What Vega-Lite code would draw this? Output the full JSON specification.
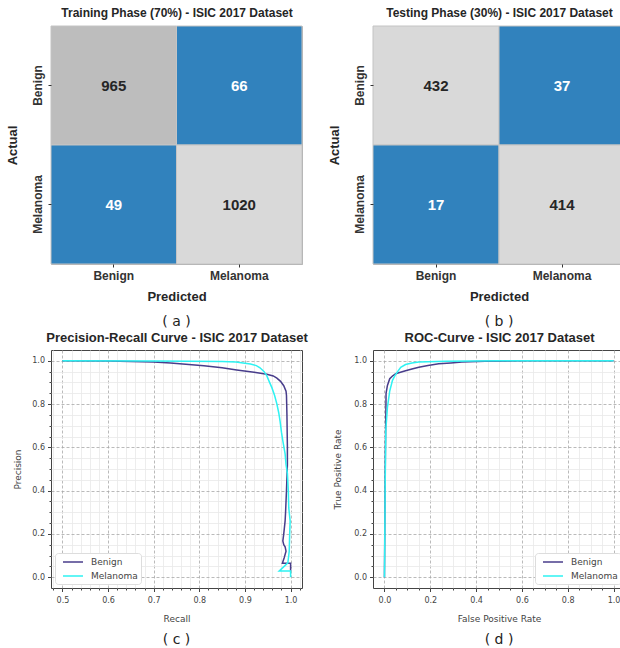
{
  "$schema": "https://vega.github.io/schema/vega-lite/v6.json",
  "background": "white",
  "padding": {"left": 5, "top": 5, "right": 0, "bottom": 0},
  "config": {"font": "Liberation Sans"},
  "datasets": {
    "cmTrain": [
      {"actual": "Benign", "predicted": "Benign", "n": 965},
      {"actual": "Benign", "predicted": "Melanoma", "n": 66},
      {"actual": "Melanoma", "predicted": "Benign", "n": 49},
      {"actual": "Melanoma", "predicted": "Melanoma", "n": 1020}
    ],
    "cmTest": [
      {"actual": "Benign", "predicted": "Benign", "n": 432},
      {"actual": "Benign", "predicted": "Melanoma", "n": 37},
      {"actual": "Melanoma", "predicted": "Benign", "n": 17},
      {"actual": "Melanoma", "predicted": "Melanoma", "n": 414}
    ],
    "pr": [
      {"s": "Benign", "i": 0, "recall": 0.5, "precision": 1.0},
      {"s": "Benign", "i": 1, "recall": 0.6, "precision": 0.999},
      {"s": "Benign", "i": 2, "recall": 0.7, "precision": 0.995},
      {"s": "Benign", "i": 3, "recall": 0.737, "precision": 0.99},
      {"s": "Benign", "i": 4, "recall": 0.81, "precision": 0.977},
      {"s": "Benign", "i": 5, "recall": 0.85, "precision": 0.968},
      {"s": "Benign", "i": 6, "recall": 0.882, "precision": 0.958},
      {"s": "Benign", "i": 7, "recall": 0.92, "precision": 0.947},
      {"s": "Benign", "i": 8, "recall": 0.948, "precision": 0.938},
      {"s": "Benign", "i": 9, "recall": 0.962, "precision": 0.93},
      {"s": "Benign", "i": 10, "recall": 0.97, "precision": 0.92},
      {"s": "Benign", "i": 11, "recall": 0.978, "precision": 0.905},
      {"s": "Benign", "i": 12, "recall": 0.985, "precision": 0.885},
      {"s": "Benign", "i": 13, "recall": 0.99, "precision": 0.86},
      {"s": "Benign", "i": 14, "recall": 0.991, "precision": 0.84},
      {"s": "Benign", "i": 15, "recall": 0.992, "precision": 0.75},
      {"s": "Benign", "i": 16, "recall": 0.993, "precision": 0.6},
      {"s": "Benign", "i": 17, "recall": 0.993, "precision": 0.52},
      {"s": "Benign", "i": 18, "recall": 0.991, "precision": 0.4},
      {"s": "Benign", "i": 19, "recall": 0.989, "precision": 0.3},
      {"s": "Benign", "i": 20, "recall": 0.988, "precision": 0.26},
      {"s": "Benign", "i": 21, "recall": 0.985, "precision": 0.2},
      {"s": "Benign", "i": 22, "recall": 0.983, "precision": 0.167},
      {"s": "Benign", "i": 23, "recall": 0.985, "precision": 0.15},
      {"s": "Benign", "i": 24, "recall": 0.988, "precision": 0.14},
      {"s": "Benign", "i": 25, "recall": 0.99, "precision": 0.12},
      {"s": "Benign", "i": 26, "recall": 0.986, "precision": 0.09},
      {"s": "Benign", "i": 27, "recall": 0.982, "precision": 0.064},
      {"s": "Benign", "i": 28, "recall": 1.0, "precision": 0.064},
      {"s": "Benign", "i": 29, "recall": 1.0, "precision": 0.03},
      {"s": "Melanoma", "i": 0, "recall": 0.5, "precision": 1.0},
      {"s": "Melanoma", "i": 1, "recall": 0.7, "precision": 0.999},
      {"s": "Melanoma", "i": 2, "recall": 0.85, "precision": 0.997},
      {"s": "Melanoma", "i": 3, "recall": 0.88, "precision": 0.995},
      {"s": "Melanoma", "i": 4, "recall": 0.912, "precision": 0.985},
      {"s": "Melanoma", "i": 5, "recall": 0.925, "precision": 0.978},
      {"s": "Melanoma", "i": 6, "recall": 0.933, "precision": 0.968},
      {"s": "Melanoma", "i": 7, "recall": 0.942, "precision": 0.95},
      {"s": "Melanoma", "i": 8, "recall": 0.948, "precision": 0.93},
      {"s": "Melanoma", "i": 9, "recall": 0.953, "precision": 0.905},
      {"s": "Melanoma", "i": 10, "recall": 0.959, "precision": 0.876},
      {"s": "Melanoma", "i": 11, "recall": 0.965, "precision": 0.84},
      {"s": "Melanoma", "i": 12, "recall": 0.97, "precision": 0.8},
      {"s": "Melanoma", "i": 13, "recall": 0.974, "precision": 0.76},
      {"s": "Melanoma", "i": 14, "recall": 0.977, "precision": 0.72},
      {"s": "Melanoma", "i": 15, "recall": 0.98, "precision": 0.67},
      {"s": "Melanoma", "i": 16, "recall": 0.983, "precision": 0.63},
      {"s": "Melanoma", "i": 17, "recall": 0.988, "precision": 0.57},
      {"s": "Melanoma", "i": 18, "recall": 0.99, "precision": 0.52},
      {"s": "Melanoma", "i": 19, "recall": 0.993, "precision": 0.48},
      {"s": "Melanoma", "i": 20, "recall": 0.995, "precision": 0.4},
      {"s": "Melanoma", "i": 21, "recall": 0.996, "precision": 0.32},
      {"s": "Melanoma", "i": 22, "recall": 0.999, "precision": 0.26},
      {"s": "Melanoma", "i": 23, "recall": 0.998, "precision": 0.2},
      {"s": "Melanoma", "i": 24, "recall": 0.997, "precision": 0.12},
      {"s": "Melanoma", "i": 25, "recall": 0.994, "precision": 0.066},
      {"s": "Melanoma", "i": 26, "recall": 0.975, "precision": 0.028},
      {"s": "Melanoma", "i": 27, "recall": 1.0, "precision": 0.028},
      {"s": "Melanoma", "i": 28, "recall": 1.0, "precision": 0.0}
    ],
    "roc": [
      {"s": "Benign", "i": 0, "fpr": 0.0, "tpr": 0.0},
      {"s": "Benign", "i": 1, "fpr": 0.002, "tpr": 0.3},
      {"s": "Benign", "i": 2, "fpr": 0.004, "tpr": 0.57},
      {"s": "Benign", "i": 3, "fpr": 0.006, "tpr": 0.75},
      {"s": "Benign", "i": 4, "fpr": 0.007, "tpr": 0.85},
      {"s": "Benign", "i": 5, "fpr": 0.013, "tpr": 0.886},
      {"s": "Benign", "i": 6, "fpr": 0.023, "tpr": 0.917},
      {"s": "Benign", "i": 7, "fpr": 0.035, "tpr": 0.93},
      {"s": "Benign", "i": 8, "fpr": 0.049, "tpr": 0.94},
      {"s": "Benign", "i": 9, "fpr": 0.07, "tpr": 0.947},
      {"s": "Benign", "i": 10, "fpr": 0.092, "tpr": 0.954},
      {"s": "Benign", "i": 11, "fpr": 0.12, "tpr": 0.962},
      {"s": "Benign", "i": 12, "fpr": 0.15, "tpr": 0.97},
      {"s": "Benign", "i": 13, "fpr": 0.19, "tpr": 0.978},
      {"s": "Benign", "i": 14, "fpr": 0.237, "tpr": 0.986},
      {"s": "Benign", "i": 15, "fpr": 0.29, "tpr": 0.99},
      {"s": "Benign", "i": 16, "fpr": 0.338, "tpr": 0.994},
      {"s": "Benign", "i": 17, "fpr": 0.44, "tpr": 0.998},
      {"s": "Benign", "i": 18, "fpr": 0.6, "tpr": 1.0},
      {"s": "Benign", "i": 19, "fpr": 1.0, "tpr": 1.0},
      {"s": "Melanoma", "i": 0, "fpr": 0.0, "tpr": 0.0},
      {"s": "Melanoma", "i": 1, "fpr": 0.001, "tpr": 0.1},
      {"s": "Melanoma", "i": 2, "fpr": 0.003, "tpr": 0.415},
      {"s": "Melanoma", "i": 3, "fpr": 0.006, "tpr": 0.68},
      {"s": "Melanoma", "i": 4, "fpr": 0.013, "tpr": 0.785},
      {"s": "Melanoma", "i": 5, "fpr": 0.023, "tpr": 0.86},
      {"s": "Melanoma", "i": 6, "fpr": 0.035, "tpr": 0.91},
      {"s": "Melanoma", "i": 7, "fpr": 0.045, "tpr": 0.93},
      {"s": "Melanoma", "i": 8, "fpr": 0.056, "tpr": 0.948},
      {"s": "Melanoma", "i": 9, "fpr": 0.071, "tpr": 0.97},
      {"s": "Melanoma", "i": 10, "fpr": 0.092, "tpr": 0.983},
      {"s": "Melanoma", "i": 11, "fpr": 0.12, "tpr": 0.99},
      {"s": "Melanoma", "i": 12, "fpr": 0.15, "tpr": 0.994},
      {"s": "Melanoma", "i": 13, "fpr": 0.266, "tpr": 0.998},
      {"s": "Melanoma", "i": 14, "fpr": 0.5, "tpr": 1.0},
      {"s": "Melanoma", "i": 15, "fpr": 1.0, "tpr": 1.0}
    ]
  },
  "columns": 2,
  "spacing": {"row": 86, "column": 71},
  "bounds": "flush",
  "resolve": {
    "scale": {"x": "independent", "y": "independent", "color": "independent"},
    "legend": {"color": "independent"}
  },
  "concat": [
    {
      "width": 251,
      "height": 238,
      "data": {"name": "cmTrain"},
      "view": {"stroke": "#aaaaaa"},
      "title": {"text": "( a )", "orient": "bottom", "frame": "group", "offset": 12, "font": "DejaVu Sans", "fontSize": 14, "fontWeight": "normal", "color": "#222222"},
      "encoding": {
        "y": {
          "field": "actual", "type": "nominal", "sort": ["Benign", "Melanoma"],
          "scale": {"type": "band", "padding": 0},
          "axis": {"title": "Actual", "labelAngle": -90, "labelAlign": "center", "labelBaseline": "bottom", "labelFont": "Liberation Sans", "labelFontSize": 12, "labelFontWeight": "bold", "labelColor": "#333333", "labelPadding": 4, "tickSize": 3, "tickColor": "#333333", "domain": false, "titleFont": "Liberation Sans", "titleFontSize": 13, "titleFontWeight": "bold", "titleColor": "#262626", "titlePadding": 12}
        }
      },
      "layer": [
        {
          "mark": {"type": "rect", "stroke": "#c4c4c4", "strokeWidth": 1},
          "encoding": {
            "x": {
              "field": "predicted", "type": "nominal", "sort": ["Benign", "Melanoma"],
              "scale": {"type": "band", "padding": 0},
              "axis": {"orient": "bottom", "title": "Predicted", "labelAngle": 0, "labelFont": "Liberation Sans", "labelFontSize": 12, "labelFontWeight": "bold", "labelColor": "#333333", "labelPadding": 3, "tickSize": 3, "tickColor": "#333333", "domain": false, "titleFont": "Liberation Sans", "titleFontSize": 13, "titleFontWeight": "bold", "titleColor": "#262626", "titlePadding": 9}
            },
            "color": {"field": "n", "type": "quantitative", "scale": {"type": "threshold", "domain": [500, 1000], "range": ["#3182bd", "#bdbdbd", "#d9d9d9"]}, "legend": null}
          }
        },
        {
          "mark": {"type": "text", "font": "Liberation Sans", "fontSize": 15, "fontWeight": "bold"},
          "encoding": {
            "x": {
              "field": "predicted", "type": "nominal", "sort": ["Benign", "Melanoma"],
              "scale": {"type": "band", "padding": 0},
              "axis": {"orient": "top", "title": "Training Phase (70%) - ISIC 2017 Dataset", "labels": false, "ticks": false, "domain": false, "grid": false, "titleFont": "Liberation Sans", "titleFontSize": 12, "titleFontWeight": "bold", "titleColor": "#262626", "titlePadding": 7}
            },
            "text": {"field": "n", "type": "quantitative", "format": "d"},
            "color": {"condition": {"test": "datum.n < 200", "value": "#ffffff"}, "value": "#262626"}
          }
        }
      ],
      "resolve": {"axis": {"x": "independent"}}
    },
    {
      "width": 252,
      "height": 238,
      "data": {"name": "cmTest"},
      "view": {"stroke": "#aaaaaa"},
      "title": {"text": "( b )", "orient": "bottom", "frame": "group", "offset": 12, "font": "DejaVu Sans", "fontSize": 14, "fontWeight": "normal", "color": "#222222"},
      "encoding": {
        "y": {
          "field": "actual", "type": "nominal", "sort": ["Benign", "Melanoma"],
          "scale": {"type": "band", "padding": 0},
          "axis": {"title": "Actual", "labelAngle": -90, "labelAlign": "center", "labelBaseline": "bottom", "labelFont": "Liberation Sans", "labelFontSize": 12, "labelFontWeight": "bold", "labelColor": "#333333", "labelPadding": 4, "tickSize": 3, "tickColor": "#333333", "domain": false, "titleFont": "Liberation Sans", "titleFontSize": 13, "titleFontWeight": "bold", "titleColor": "#262626", "titlePadding": 12}
        }
      },
      "layer": [
        {
          "mark": {"type": "rect", "stroke": "#c4c4c4", "strokeWidth": 1},
          "encoding": {
            "x": {
              "field": "predicted", "type": "nominal", "sort": ["Benign", "Melanoma"],
              "scale": {"type": "band", "padding": 0},
              "axis": {"orient": "bottom", "title": "Predicted", "labelAngle": 0, "labelFont": "Liberation Sans", "labelFontSize": 12, "labelFontWeight": "bold", "labelColor": "#333333", "labelPadding": 3, "tickSize": 3, "tickColor": "#333333", "domain": false, "titleFont": "Liberation Sans", "titleFontSize": 13, "titleFontWeight": "bold", "titleColor": "#262626", "titlePadding": 9}
            },
            "color": {"field": "n", "type": "quantitative", "scale": {"type": "threshold", "domain": [200], "range": ["#3182bd", "#d9d9d9"]}, "legend": null}
          }
        },
        {
          "mark": {"type": "text", "font": "Liberation Sans", "fontSize": 15, "fontWeight": "bold"},
          "encoding": {
            "x": {
              "field": "predicted", "type": "nominal", "sort": ["Benign", "Melanoma"],
              "scale": {"type": "band", "padding": 0},
              "axis": {"orient": "top", "title": "Testing Phase (30%) - ISIC 2017 Dataset", "labels": false, "ticks": false, "domain": false, "grid": false, "titleFont": "Liberation Sans", "titleFontSize": 12, "titleFontWeight": "bold", "titleColor": "#262626", "titlePadding": 7}
            },
            "text": {"field": "n", "type": "quantitative", "format": "d"},
            "color": {"condition": {"test": "datum.n < 200", "value": "#ffffff"}, "value": "#262626"}
          }
        }
      ],
      "resolve": {"axis": {"x": "independent"}}
    },
    {
      "width": 251,
      "height": 238,
      "data": {"name": "pr"},
      "view": {"stroke": "#444444"},
      "title": {"text": "( c )", "orient": "bottom", "frame": "group", "offset": 9, "font": "DejaVu Sans", "fontSize": 14, "fontWeight": "normal", "color": "#222222"},
      "encoding": {
        "y": {
          "field": "precision", "type": "quantitative",
          "scale": {"domain": [-0.05, 1.05], "nice": false, "zero": false},
          "axis": {
            "title": "Precision",
            "values": [0, 0.05, 0.1, 0.15, 0.2, 0.25, 0.3, 0.35, 0.4, 0.45, 0.5, 0.55, 0.6, 0.65, 0.7, 0.75, 0.8, 0.85, 0.9, 0.95, 1.0],
            "labelExpr": "abs(datum.value*5 - round(datum.value*5)) < 0.001 ? format(datum.value, '.1f') : ''",
            "labelOverlap": false, "labelFlush": false,
            "labelFont": "DejaVu Sans", "labelFontSize": 8, "labelColor": "#444444", "labelPadding": 3,
            "tickColor": "#444444",
            "tickSize": {"condition": {"test": "abs(datum.value*5 - round(datum.value*5)) < 0.001", "value": 3.5}, "value": 2},
            "grid": true,
            "gridColor": {"condition": {"test": "abs(datum.value*5 - round(datum.value*5)) < 0.001", "value": "#a8a8a8"}, "value": "#e8e8e8"},
            "gridDash": {"condition": {"test": "abs(datum.value*5 - round(datum.value*5)) < 0.001", "value": [3, 2]}, "value": []},
            "gridWidth": 0.8,
            "domain": false,
            "titleFont": "DejaVu Sans", "titleFontSize": 9, "titleFontWeight": "normal", "titleColor": "#444444", "titlePadding": 9
          }
        },
        "color": {
          "field": "s", "type": "nominal",
          "scale": {"domain": ["Benign", "Melanoma"], "range": ["#483d8b", "#2ef2f2"]},
          "legend": {"title": null, "orient": "bottom-left", "offset": 4, "symbolType": "M-0.2,0H3.8", "symbolSize": 100, "symbolStrokeWidth": 1.5, "labelFont": "DejaVu Sans", "labelFontSize": 9, "labelColor": "#444444", "labelOffset": 21, "fillColor": "#ffffff", "strokeColor": "#dddddd", "padding": 3, "cornerRadius": 3, "rowPadding": 3}
        },
        "order": {"field": "i", "type": "quantitative"}
      },
      "layer": [
        {
          "transform": [{"filter": "datum.s === 'Benign'"}],
          "mark": {"type": "line", "strokeWidth": 1.5},
          "encoding": {
            "x": {
              "field": "recall", "type": "quantitative",
              "scale": {"domain": [0.475, 1.025], "nice": false, "zero": false},
              "axis": {
                "orient": "bottom", "title": "Recall",
                "values": [0.48, 0.5, 0.52, 0.54, 0.56, 0.58, 0.6, 0.62, 0.64, 0.66, 0.68, 0.7, 0.72, 0.74, 0.76, 0.78, 0.8, 0.82, 0.84, 0.86, 0.88, 0.9, 0.92, 0.94, 0.96, 0.98, 1.0, 1.02],
                "labelExpr": "abs(datum.value*10 - round(datum.value*10)) < 0.001 ? format(datum.value, '.1f') : ''",
                "labelOverlap": false, "labelFlush": false,
                "labelFont": "DejaVu Sans", "labelFontSize": 8, "labelColor": "#444444", "labelPadding": 5,
                "tickColor": "#444444",
                "tickSize": {"condition": {"test": "abs(datum.value*10 - round(datum.value*10)) < 0.001", "value": 3.5}, "value": 2},
                "grid": true,
                "gridColor": {"condition": {"test": "abs(datum.value*10 - round(datum.value*10)) < 0.001", "value": "#a8a8a8"}, "value": "#e8e8e8"},
                "gridDash": {"condition": {"test": "abs(datum.value*10 - round(datum.value*10)) < 0.001", "value": [3, 2]}, "value": []},
                "gridWidth": 0.8,
                "domain": false,
                "titleFont": "DejaVu Sans", "titleFontSize": 9, "titleFontWeight": "normal", "titleColor": "#444444", "titlePadding": 10
              }
            }
          }
        },
        {
          "transform": [{"filter": "datum.s === 'Melanoma'"}],
          "mark": {"type": "line", "strokeWidth": 1.5},
          "encoding": {
            "x": {
              "field": "recall", "type": "quantitative",
              "scale": {"domain": [0.475, 1.025], "nice": false, "zero": false},
              "axis": {"orient": "top", "title": "Precision-Recall Curve - ISIC 2017 Dataset", "labels": false, "ticks": false, "domain": false, "grid": false, "titleFont": "Liberation Sans", "titleFontSize": 13, "titleFontWeight": "bold", "titleColor": "#262626", "titlePadding": 6}
            }
          }
        }
      ],
      "resolve": {"axis": {"x": "independent"}}
    },
    {
      "width": 252,
      "height": 238,
      "data": {"name": "roc"},
      "view": {"stroke": "#444444"},
      "title": {"text": "( d )", "orient": "bottom", "frame": "group", "offset": 9, "font": "DejaVu Sans", "fontSize": 14, "fontWeight": "normal", "color": "#222222"},
      "encoding": {
        "y": {
          "field": "tpr", "type": "quantitative",
          "scale": {"domain": [-0.05, 1.05], "nice": false, "zero": false},
          "axis": {
            "title": "True Positive Rate",
            "values": [0, 0.05, 0.1, 0.15, 0.2, 0.25, 0.3, 0.35, 0.4, 0.45, 0.5, 0.55, 0.6, 0.65, 0.7, 0.75, 0.8, 0.85, 0.9, 0.95, 1.0],
            "labelExpr": "abs(datum.value*5 - round(datum.value*5)) < 0.001 ? format(datum.value, '.1f') : ''",
            "labelOverlap": false, "labelFlush": false,
            "labelFont": "DejaVu Sans", "labelFontSize": 8, "labelColor": "#444444", "labelPadding": 3,
            "tickColor": "#444444",
            "tickSize": {"condition": {"test": "abs(datum.value*5 - round(datum.value*5)) < 0.001", "value": 3.5}, "value": 2},
            "grid": true,
            "gridColor": {"condition": {"test": "abs(datum.value*5 - round(datum.value*5)) < 0.001", "value": "#a8a8a8"}, "value": "#e8e8e8"},
            "gridDash": {"condition": {"test": "abs(datum.value*5 - round(datum.value*5)) < 0.001", "value": [3, 2]}, "value": []},
            "gridWidth": 0.8,
            "domain": false,
            "titleFont": "DejaVu Sans", "titleFontSize": 9, "titleFontWeight": "normal", "titleColor": "#444444", "titlePadding": 11
          }
        },
        "color": {
          "field": "s", "type": "nominal",
          "scale": {"domain": ["Benign", "Melanoma"], "range": ["#483d8b", "#2ef2f2"]},
          "legend": {"title": null, "orient": "bottom-right", "offset": 4, "symbolType": "M-0.2,0H3.8", "symbolSize": 100, "symbolStrokeWidth": 1.5, "labelFont": "DejaVu Sans", "labelFontSize": 9, "labelColor": "#444444", "labelOffset": 21, "fillColor": "#ffffff", "strokeColor": "#dddddd", "padding": 3, "cornerRadius": 3, "rowPadding": 3}
        },
        "order": {"field": "i", "type": "quantitative"}
      },
      "layer": [
        {
          "transform": [{"filter": "datum.s === 'Benign'"}],
          "mark": {"type": "line", "strokeWidth": 1.5},
          "encoding": {
            "x": {
              "field": "fpr", "type": "quantitative",
              "scale": {"domain": [-0.05, 1.05], "nice": false, "zero": false},
              "axis": {
                "orient": "bottom", "title": "False Positive Rate",
                "values": [0, 0.05, 0.1, 0.15, 0.2, 0.25, 0.3, 0.35, 0.4, 0.45, 0.5, 0.55, 0.6, 0.65, 0.7, 0.75, 0.8, 0.85, 0.9, 0.95, 1.0],
                "labelExpr": "abs(datum.value*5 - round(datum.value*5)) < 0.001 ? format(datum.value, '.1f') : ''",
                "labelOverlap": false, "labelFlush": false,
                "labelFont": "DejaVu Sans", "labelFontSize": 8, "labelColor": "#444444", "labelPadding": 5,
                "tickColor": "#444444",
                "tickSize": {"condition": {"test": "abs(datum.value*5 - round(datum.value*5)) < 0.001", "value": 3.5}, "value": 2},
                "grid": true,
                "gridColor": {"condition": {"test": "abs(datum.value*5 - round(datum.value*5)) < 0.001", "value": "#a8a8a8"}, "value": "#e8e8e8"},
                "gridDash": {"condition": {"test": "abs(datum.value*5 - round(datum.value*5)) < 0.001", "value": [3, 2]}, "value": []},
                "gridWidth": 0.8,
                "domain": false,
                "titleFont": "DejaVu Sans", "titleFontSize": 9, "titleFontWeight": "normal", "titleColor": "#444444", "titlePadding": 10
              }
            }
          }
        },
        {
          "transform": [{"filter": "datum.s === 'Melanoma'"}],
          "mark": {"type": "line", "strokeWidth": 1.5},
          "encoding": {
            "x": {
              "field": "fpr", "type": "quantitative",
              "scale": {"domain": [-0.05, 1.05], "nice": false, "zero": false},
              "axis": {"orient": "top", "title": "ROC-Curve - ISIC 2017 Dataset", "labels": false, "ticks": false, "domain": false, "grid": false, "titleFont": "Liberation Sans", "titleFontSize": 13, "titleFontWeight": "bold", "titleColor": "#262626", "titlePadding": 6}
            }
          }
        }
      ],
      "resolve": {"axis": {"x": "independent"}}
    }
  ]
}
